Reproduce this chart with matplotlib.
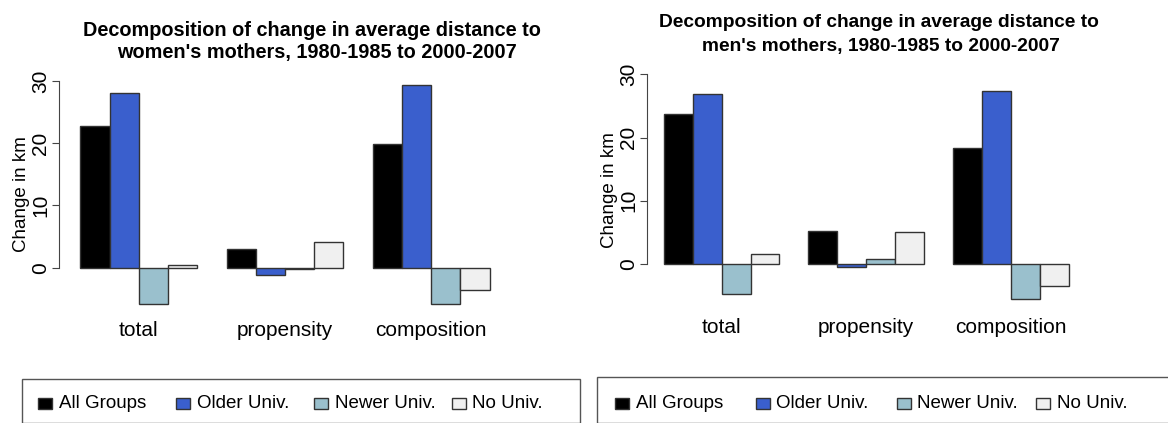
import numpy as np
import matplotlib
matplotlib.use("Agg")
from matplotlib import pyplot as plt
from matplotlib.patches import Rectangle

plt.rcParams['font.family'] = ['Liberation Sans', 'DejaVu Sans']

categories = ['total', 'propensity', 'composition']
groups = ['All Groups', 'Older Univ.', 'Newer Univ.', 'No Univ.']
colors = ['#000000', '#3A5FCD', '#9AC0CD', '#F0F0F0']

# rows: groups, columns: categories
women = np.array((
    (22.8, 2.95, 19.9),
    (28.0, -1.1, 29.4),
    (-5.9, -0.15, -5.8),
    (0.5, 4.2, -3.6),
))
men = np.array((
    (23.8, 5.3, 18.3),
    (26.9, -0.55, 27.4),
    (-4.8, 0.75, -5.5),
    (1.6, 5.0, -3.5),
))

W, H = 1168, 423
fig = plt.figure(figsize=(W / 100, H / 100), dpi=100)


def px_axes(left, right, top, bottom):
    return fig.add_axes([left / W, 1 - bottom / H, (right - left) / W, (bottom - top) / H])


def draw_panel(ax, data, xlim):
    for g in range(4):
        x = np.arange(3) * 5 + g
        ax.bar(x, data[g], 1.0, color=colors[g], edgecolor='#333333', linewidth=1.0)
    ax.set_xlim(*xlim)
    ax.set_ylim(-7.5, 31)
    for s in ('top', 'right', 'bottom'):
        ax.spines[s].set_visible(False)
    ax.spines['left'].set_bounds(0, 30)
    ax.spines['left'].set_color('#444444')
    ax.set_yticks([0, 10, 20, 30])
    ax.set_yticklabels(['0', '10', '20', '30'], rotation=90, va='center', fontsize=15)
    ax.tick_params(axis='y', length=5, color='#444444', pad=1.5)
    ax.set_xticks(np.arange(3) * 5 + 1.5)
    ax.set_xticklabels(categories, fontsize=15)
    ax.tick_params(axis='x', length=0, pad=5)
    ax.set_ylabel('Change in km', fontsize=13.5, labelpad=1)


def draw_legend(frame_left, frame_top, box_x, text_x, y=403):
    frame_right = 1200 if frame_left > 584 else 580
    fig.add_artist(Rectangle((frame_left / W, 0), (frame_right - frame_left) / W,
                             1 - frame_top / H, transform=fig.transFigure,
                             fill=False, edgecolor='#555555', linewidth=1))
    for g in range(4):
        fig.add_artist(Rectangle((box_x[g] / W, 1 - (y + 5.5) / H), 14 / W, 11 / H,
                                 transform=fig.transFigure, facecolor=colors[g],
                                 edgecolor='#333333', linewidth=1))
        fig.text(text_x[g] / W, 1 - y / H, groups[g], ha='left', va='center', fontsize=13.5)


ax1 = px_axes(59, 506, 74.6, 314.4)
draw_panel(ax1, women, (-1.23, 14.06))
ax2 = px_axes(647, 1085, 68.1, 311.4)
draw_panel(ax2, men, (-1.08, 14.06))

fig.text(311.5 / W, 1 - 36 / H, 'Decomposition of change in average distance to',
         ha='center', va='baseline', fontsize=14.3, fontweight='bold')
fig.text(316.5 / W, 1 - 58 / H, "women's mothers, 1980-1985 to 2000-2007",
         ha='center', va='baseline', fontsize=14.3, fontweight='bold')
fig.text(878.5 / W, 1 - 27 / H, 'Decomposition of change in average distance to',
         ha='center', va='baseline', fontsize=13.8, fontweight='bold')
fig.text(880.5 / W, 1 - 51 / H, "men's mothers, 1980-1985 to 2000-2007",
         ha='center', va='baseline', fontsize=13.8, fontweight='bold')

# legend frames run past the bottom edge of the picture
draw_legend(22, 379, (38, 176, 314, 452), (59, 197, 335, 472))
draw_legend(597, 377, (615, 756, 897, 1036), (636, 776, 917, 1057))

plt.savefig('out.png', dpi=100)
